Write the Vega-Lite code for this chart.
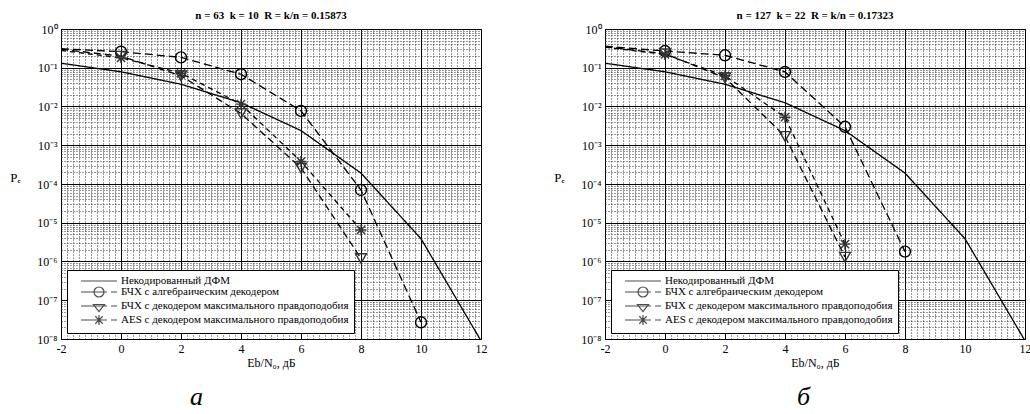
{
  "$schema": "https://vega.github.io/schema/vega-lite/v6.json",
  "background": "white",
  "padding": {"left": 9, "top": 9, "right": 0, "bottom": 0},
  "bounds": "flush",
  "spacing": 124,
  "config": {
    "font": "Liberation Serif",
    "view": {"stroke": "#000", "strokeWidth": 1},
    "axis": {"labelFont": "Liberation Serif", "titleFont": "Liberation Serif", "titleFontWeight": "normal", "labelColor": "#000", "titleColor": "#000"},
    "title": {"font": "Liberation Serif", "fontSize": 11, "fontWeight": "bold", "color": "#000", "offset": 2},
    "legend": {
      "orient": "bottom-left", "offset": 6, "strokeColor": "#000", "fillColor": "white", "padding": 5,
      "labelFont": "Liberation Serif", "labelFontSize": 11, "labelColor": "#000", "labelLimit": 400,
      "title": "\u00a0", "titleFontSize": 9, "titlePadding": 2,
      "symbolSize": 100, "symbolStrokeWidth": 1.2, "symbolOffset": 21, "labelOffset": 16, "rowPadding": -3, "cornerRadius": 0
    }
  },
  "data": {"values": [
    {"p": "a", "s": "Некодированный ДФМ", "x": -2, "pe": 0.131},
    {"p": "a", "s": "Некодированный ДФМ", "x": 0, "pe": 0.0786},
    {"p": "a", "s": "Некодированный ДФМ", "x": 2, "pe": 0.0375},
    {"p": "a", "s": "Некодированный ДФМ", "x": 4, "pe": 0.0125},
    {"p": "a", "s": "Некодированный ДФМ", "x": 6, "pe": 0.00239},
    {"p": "a", "s": "Некодированный ДФМ", "x": 8, "pe": 0.000191},
    {"p": "a", "s": "Некодированный ДФМ", "x": 10, "pe": 0.00000387},
    {"p": "a", "s": "Некодированный ДФМ", "x": 12, "pe": 0.000000009},
    {"p": "a", "s": "БЧХ с алгебраическим декодером", "x": -2, "pe": 0.31},
    {"p": "a", "s": "БЧХ с алгебраическим декодером", "x": 0, "pe": 0.26},
    {"p": "a", "s": "БЧХ с алгебраическим декодером", "x": 2, "pe": 0.185},
    {"p": "a", "s": "БЧХ с алгебраическим декодером", "x": 4, "pe": 0.068},
    {"p": "a", "s": "БЧХ с алгебраическим декодером", "x": 6, "pe": 0.0077},
    {"p": "a", "s": "БЧХ с алгебраическим декодером", "x": 8, "pe": 0.00007},
    {"p": "a", "s": "БЧХ с алгебраическим декодером", "x": 10, "pe": 0.000000027},
    {"p": "a", "s": "БЧХ с декодером максимального правдоподобия", "x": -2, "pe": 0.30},
    {"p": "a", "s": "БЧХ с декодером максимального правдоподобия", "x": 0, "pe": 0.20},
    {"p": "a", "s": "БЧХ с декодером максимального правдоподобия", "x": 2, "pe": 0.062},
    {"p": "a", "s": "БЧХ с декодером максимального правдоподобия", "x": 4, "pe": 0.0066},
    {"p": "a", "s": "БЧХ с декодером максимального правдоподобия", "x": 6, "pe": 0.00026},
    {"p": "a", "s": "БЧХ с декодером максимального правдоподобия", "x": 8, "pe": 0.0000012},
    {"p": "a", "s": "AES с декодером максимального правдоподобия", "x": -2, "pe": 0.28},
    {"p": "a", "s": "AES с декодером максимального правдоподобия", "x": 0, "pe": 0.18},
    {"p": "a", "s": "AES с декодером максимального правдоподобия", "x": 2, "pe": 0.072},
    {"p": "a", "s": "AES с декодером максимального правдоподобия", "x": 4, "pe": 0.0115},
    {"p": "a", "s": "AES с декодером максимального правдоподобия", "x": 6, "pe": 0.00038},
    {"p": "a", "s": "AES с декодером максимального правдоподобия", "x": 8, "pe": 0.0000065},
    {"p": "b", "s": "Некодированный ДФМ", "x": -2, "pe": 0.131},
    {"p": "b", "s": "Некодированный ДФМ", "x": 0, "pe": 0.0786},
    {"p": "b", "s": "Некодированный ДФМ", "x": 2, "pe": 0.0375},
    {"p": "b", "s": "Некодированный ДФМ", "x": 4, "pe": 0.0125},
    {"p": "b", "s": "Некодированный ДФМ", "x": 6, "pe": 0.00239},
    {"p": "b", "s": "Некодированный ДФМ", "x": 8, "pe": 0.000191},
    {"p": "b", "s": "Некодированный ДФМ", "x": 10, "pe": 0.00000387},
    {"p": "b", "s": "Некодированный ДФМ", "x": 12, "pe": 0.000000009},
    {"p": "b", "s": "БЧХ с алгебраическим декодером", "x": -2, "pe": 0.36},
    {"p": "b", "s": "БЧХ с алгебраическим декодером", "x": 0, "pe": 0.27},
    {"p": "b", "s": "БЧХ с алгебраическим декодером", "x": 2, "pe": 0.21},
    {"p": "b", "s": "БЧХ с алгебраическим декодером", "x": 4, "pe": 0.078},
    {"p": "b", "s": "БЧХ с алгебраическим декодером", "x": 6, "pe": 0.003},
    {"p": "b", "s": "БЧХ с алгебраическим декодером", "x": 8, "pe": 0.0000018},
    {"p": "b", "s": "БЧХ с декодером максимального правдоподобия", "x": -2, "pe": 0.35},
    {"p": "b", "s": "БЧХ с декодером максимального правдоподобия", "x": 0, "pe": 0.23},
    {"p": "b", "s": "БЧХ с декодером максимального правдоподобия", "x": 2, "pe": 0.055},
    {"p": "b", "s": "БЧХ с декодером максимального правдоподобия", "x": 4, "pe": 0.0017},
    {"p": "b", "s": "БЧХ с декодером максимального правдоподобия", "x": 6, "pe": 0.0000013},
    {"p": "b", "s": "AES с декодером максимального правдоподобия", "x": -2, "pe": 0.34},
    {"p": "b", "s": "AES с декодером максимального правдоподобия", "x": 0, "pe": 0.22},
    {"p": "b", "s": "AES с декодером максимального правдоподобия", "x": 2, "pe": 0.062},
    {"p": "b", "s": "AES с декодером максимального правдоподобия", "x": 4, "pe": 0.0053},
    {"p": "b", "s": "AES с декодером максимального правдоподобия", "x": 6, "pe": 0.0000028}
  ]},
  "hconcat": [
    {
      "width": 420, "height": 310,
      "title": {"text": "n = 63\u00a0 k = 10\u00a0 R = k/n = 0.15873"},
      "transform": [{"filter": "datum.p == 'a'"}],
      "layer": [
        {
          "mark": {"type": "line", "clip": true, "strokeWidth": 1.3},
          "encoding": {
            "x": {"field": "x", "type": "quantitative", "scale": {"domain": [-2, 12], "nice": false, "zero": false},
              "axis": {"orient": "bottom", "values": [-2, 0, 2, 4, 6, 8, 10, 12], "grid": true, "gridColor": "#000", "gridOpacity": 1, "gridWidth": 1, "domain": false, "ticks": false, "labelFontSize": 12, "labelPadding": 4, "labelFlush": false, "labelExpr": "replace(datum.label, '−', '-')", "title": "Eb/N₀, дБ", "titleFontSize": 12, "titlePadding": 3}},
            "y": {"field": "pe", "type": "quantitative", "scale": {"type": "log", "domain": [1e-8, 1], "nice": false},
              "axis": {"orient": "left", "values": [1e-8, 1e-7, 1e-6, 1e-5, 1e-4, 1e-3, 1e-2, 1e-1, 1], "grid": true, "gridColor": "#000", "gridOpacity": 1, "gridWidth": 1, "domain": false, "ticks": false, "labelFontSize": 12, "labelPadding": 4,
                "labelExpr": "'10' + ['⁰','⁻¹','⁻²','⁻³','⁻⁴','⁻⁵','⁻⁶','⁻⁷','⁻⁸'][-round(log(datum.value)/LN10)]",
                "title": "Pₑ", "titleAngle": 0, "titleFontSize": 13, "titleX": -46, "titleY": 148, "titleAlign": "center", "titleBaseline": "middle"}},
            "strokeDash": {"field": "s", "type": "nominal", "legend": null,
              "scale": {"domain": ["Некодированный ДФМ", "БЧХ с алгебраическим декодером", "БЧХ с декодером максимального правдоподобия", "AES с декодером максимального правдоподобия"], "range": [[1, 0], [8, 4], [7, 4], [5, 4]]}},
            "color": {"value": "#000"}
          }
        },
        {
          "transform": [{"filter": "datum.x >= 0 && datum.s != 'Некодированный ДФМ'"}],
          "mark": {"type": "point", "filled": false, "size": 120, "strokeWidth": 1.4, "opacity": 1},
          "encoding": {
            "x": {"field": "x", "type": "quantitative",
              "axis": {"orient": "bottom", "values": [-1.8,-1.6,-1.4,-1.2,-1,-0.8,-0.6,-0.4,-0.2,0.2,0.4,0.6,0.8,1,1.2,1.4,1.6,1.8,2.2,2.4,2.6,2.8,3,3.2,3.4,3.6,3.8,4.2,4.4,4.6,4.8,5,5.2,5.4,5.6,5.8,6.2,6.4,6.6,6.8,7,7.2,7.4,7.6,7.8,8.2,8.4,8.6,8.8,9,9.2,9.4,9.6,9.8,10.2,10.4,10.6,10.8,11,11.2,11.4,11.6,11.8], "grid": true, "gridColor": "#333", "gridOpacity": 1, "gridWidth": 1, "gridDash": [1, 2], "domain": false, "ticks": false, "labels": false, "title": null}},
            "y": {"field": "pe", "type": "quantitative",
              "axis": {"orient": "left", "values": [2e-8,3e-8,4e-8,5e-8,6e-8,7e-8,8e-8,9e-8,2e-7,3e-7,4e-7,5e-7,6e-7,7e-7,8e-7,9e-7,2e-6,3e-6,4e-6,5e-6,6e-6,7e-6,8e-6,9e-6,2e-5,3e-5,4e-5,5e-5,6e-5,7e-5,8e-5,9e-5,2e-4,3e-4,4e-4,5e-4,6e-4,7e-4,8e-4,9e-4,2e-3,3e-3,4e-3,5e-3,6e-3,7e-3,8e-3,9e-3,0.02,0.03,0.04,0.05,0.06,0.07,0.08,0.09,0.2,0.3,0.4,0.5,0.6,0.7,0.8,0.9], "grid": true, "gridColor": "#333", "gridOpacity": 1, "gridWidth": 1, "gridDash": [1, 2], "domain": false, "ticks": false, "labels": false, "title": null}},
            "shape": {"field": "s", "type": "nominal", "legend": null,
              "scale": {"domain": ["БЧХ с алгебраическим декодером", "БЧХ с декодером максимального правдоподобия", "AES с декодером максимального правдоподобия"], "range": ["circle", "triangle-down", "M-1,0H1M0,-1V1M-0.75,-0.75L0.75,0.75M-0.75,0.75L0.75,-0.75"]}},
            "color": {"field": "s", "type": "nominal", "legend": null,
              "scale": {"domain": ["БЧХ с алгебраическим декодером", "БЧХ с декодером максимального правдоподобия", "AES с декодером максимального правдоподобия"], "range": ["#000", "#333", "#333"]}}
          }
        },
        {
          "transform": [{"filter": "datum.x > 100"}],
          "mark": {"type": "point", "filled": false, "color": "#000", "strokeWidth": 1.2},
          "encoding": {
            "x": {"field": "x", "type": "quantitative",
              "axis": {"orient": "bottom", "labels": false, "ticks": false, "domain": false, "grid": false, "title": "а", "titleFontSize": 26, "titleFontStyle": "italic", "titleFontWeight": "normal", "titleX": 135, "titleY": 44}},
            "y": {"field": "pe", "type": "quantitative", "axis": null},
            "shape": {"field": "s", "type": "nominal", "legend": {},
              "scale": {"domain": ["Некодированный ДФМ", "БЧХ с алгебраическим декодером", "БЧХ с декодером максимального правдоподобия", "AES с декодером максимального правдоподобия"],
                "range": ["M-3.6,0H3.6", "M-3.6,0H1.6M2.4,0H3.6M-1,0A1,1,0,1,1,1,0A1,1,0,1,1,-1,0", "M-3.6,0H1.6M2.4,0H3.6M-1.1,-0.3L1.1,-0.3L0,1.1Z", "M-3.6,0H1.6M2.4,0H3.6M0,-1V1M-0.75,-0.75L0.75,0.75M-0.75,0.75L0.75,-0.75"]}}
          }
        }
      ],
      "resolve": {"scale": {"shape": "independent", "color": "independent"}, "axis": {"x": "independent", "y": "independent"}}
    },
    {
      "width": 420, "height": 310,
      "title": {"text": "n = 127\u00a0 k = 22\u00a0 R = k/n = 0.17323"},
      "transform": [{"filter": "datum.p == 'b'"}],
      "layer": [
        {
          "mark": {"type": "line", "clip": true, "strokeWidth": 1.3},
          "encoding": {
            "x": {"field": "x", "type": "quantitative", "scale": {"domain": [-2, 12], "nice": false, "zero": false},
              "axis": {"orient": "bottom", "values": [-2, 0, 2, 4, 6, 8, 10, 12], "grid": true, "gridColor": "#000", "gridOpacity": 1, "gridWidth": 1, "domain": false, "ticks": false, "labelFontSize": 12, "labelPadding": 4, "labelFlush": false, "labelExpr": "replace(datum.label, '−', '-')", "title": "Eb/N₀, дБ", "titleFontSize": 12, "titlePadding": 3}},
            "y": {"field": "pe", "type": "quantitative", "scale": {"type": "log", "domain": [1e-8, 1], "nice": false},
              "axis": {"orient": "left", "values": [1e-8, 1e-7, 1e-6, 1e-5, 1e-4, 1e-3, 1e-2, 1e-1, 1], "grid": true, "gridColor": "#000", "gridOpacity": 1, "gridWidth": 1, "domain": false, "ticks": false, "labelFontSize": 12, "labelPadding": 4,
                "labelExpr": "'10' + ['⁰','⁻¹','⁻²','⁻³','⁻⁴','⁻⁵','⁻⁶','⁻⁷','⁻⁸'][-round(log(datum.value)/LN10)]",
                "title": "Pₑ", "titleAngle": 0, "titleFontSize": 13, "titleX": -46, "titleY": 148, "titleAlign": "center", "titleBaseline": "middle"}},
            "strokeDash": {"field": "s", "type": "nominal", "legend": null,
              "scale": {"domain": ["Некодированный ДФМ", "БЧХ с алгебраическим декодером", "БЧХ с декодером максимального правдоподобия", "AES с декодером максимального правдоподобия"], "range": [[1, 0], [8, 4], [7, 4], [5, 4]]}},
            "color": {"value": "#000"}
          }
        },
        {
          "transform": [{"filter": "datum.x >= 0 && datum.s != 'Некодированный ДФМ'"}],
          "mark": {"type": "point", "filled": false, "size": 120, "strokeWidth": 1.4, "opacity": 1},
          "encoding": {
            "x": {"field": "x", "type": "quantitative",
              "axis": {"orient": "bottom", "values": [-1.8,-1.6,-1.4,-1.2,-1,-0.8,-0.6,-0.4,-0.2,0.2,0.4,0.6,0.8,1,1.2,1.4,1.6,1.8,2.2,2.4,2.6,2.8,3,3.2,3.4,3.6,3.8,4.2,4.4,4.6,4.8,5,5.2,5.4,5.6,5.8,6.2,6.4,6.6,6.8,7,7.2,7.4,7.6,7.8,8.2,8.4,8.6,8.8,9,9.2,9.4,9.6,9.8,10.2,10.4,10.6,10.8,11,11.2,11.4,11.6,11.8], "grid": true, "gridColor": "#333", "gridOpacity": 1, "gridWidth": 1, "gridDash": [1, 2], "domain": false, "ticks": false, "labels": false, "title": null}},
            "y": {"field": "pe", "type": "quantitative",
              "axis": {"orient": "left", "values": [2e-8,3e-8,4e-8,5e-8,6e-8,7e-8,8e-8,9e-8,2e-7,3e-7,4e-7,5e-7,6e-7,7e-7,8e-7,9e-7,2e-6,3e-6,4e-6,5e-6,6e-6,7e-6,8e-6,9e-6,2e-5,3e-5,4e-5,5e-5,6e-5,7e-5,8e-5,9e-5,2e-4,3e-4,4e-4,5e-4,6e-4,7e-4,8e-4,9e-4,2e-3,3e-3,4e-3,5e-3,6e-3,7e-3,8e-3,9e-3,0.02,0.03,0.04,0.05,0.06,0.07,0.08,0.09,0.2,0.3,0.4,0.5,0.6,0.7,0.8,0.9], "grid": true, "gridColor": "#333", "gridOpacity": 1, "gridWidth": 1, "gridDash": [1, 2], "domain": false, "ticks": false, "labels": false, "title": null}},
            "shape": {"field": "s", "type": "nominal", "legend": null,
              "scale": {"domain": ["БЧХ с алгебраическим декодером", "БЧХ с декодером максимального правдоподобия", "AES с декодером максимального правдоподобия"], "range": ["circle", "triangle-down", "M-1,0H1M0,-1V1M-0.75,-0.75L0.75,0.75M-0.75,0.75L0.75,-0.75"]}},
            "color": {"field": "s", "type": "nominal", "legend": null,
              "scale": {"domain": ["БЧХ с алгебраическим декодером", "БЧХ с декодером максимального правдоподобия", "AES с декодером максимального правдоподобия"], "range": ["#000", "#333", "#333"]}}
          }
        },
        {
          "transform": [{"filter": "datum.x > 100"}],
          "mark": {"type": "point", "filled": false, "color": "#000", "strokeWidth": 1.2},
          "encoding": {
            "x": {"field": "x", "type": "quantitative",
              "axis": {"orient": "bottom", "labels": false, "ticks": false, "domain": false, "grid": false, "title": "б", "titleFontSize": 26, "titleFontStyle": "italic", "titleFontWeight": "normal", "titleX": 198, "titleY": 44}},
            "y": {"field": "pe", "type": "quantitative", "axis": null},
            "shape": {"field": "s", "type": "nominal", "legend": {},
              "scale": {"domain": ["Некодированный ДФМ", "БЧХ с алгебраическим декодером", "БЧХ с декодером максимального правдоподобия", "AES с декодером максимального правдоподобия"],
                "range": ["M-3.6,0H3.6", "M-3.6,0H1.6M2.4,0H3.6M-1,0A1,1,0,1,1,1,0A1,1,0,1,1,-1,0", "M-3.6,0H1.6M2.4,0H3.6M-1.1,-0.3L1.1,-0.3L0,1.1Z", "M-3.6,0H1.6M2.4,0H3.6M0,-1V1M-0.75,-0.75L0.75,0.75M-0.75,0.75L0.75,-0.75"]}}
          }
        }
      ],
      "resolve": {"scale": {"shape": "independent", "color": "independent"}, "axis": {"x": "independent", "y": "independent"}}
    }
  ]
}
